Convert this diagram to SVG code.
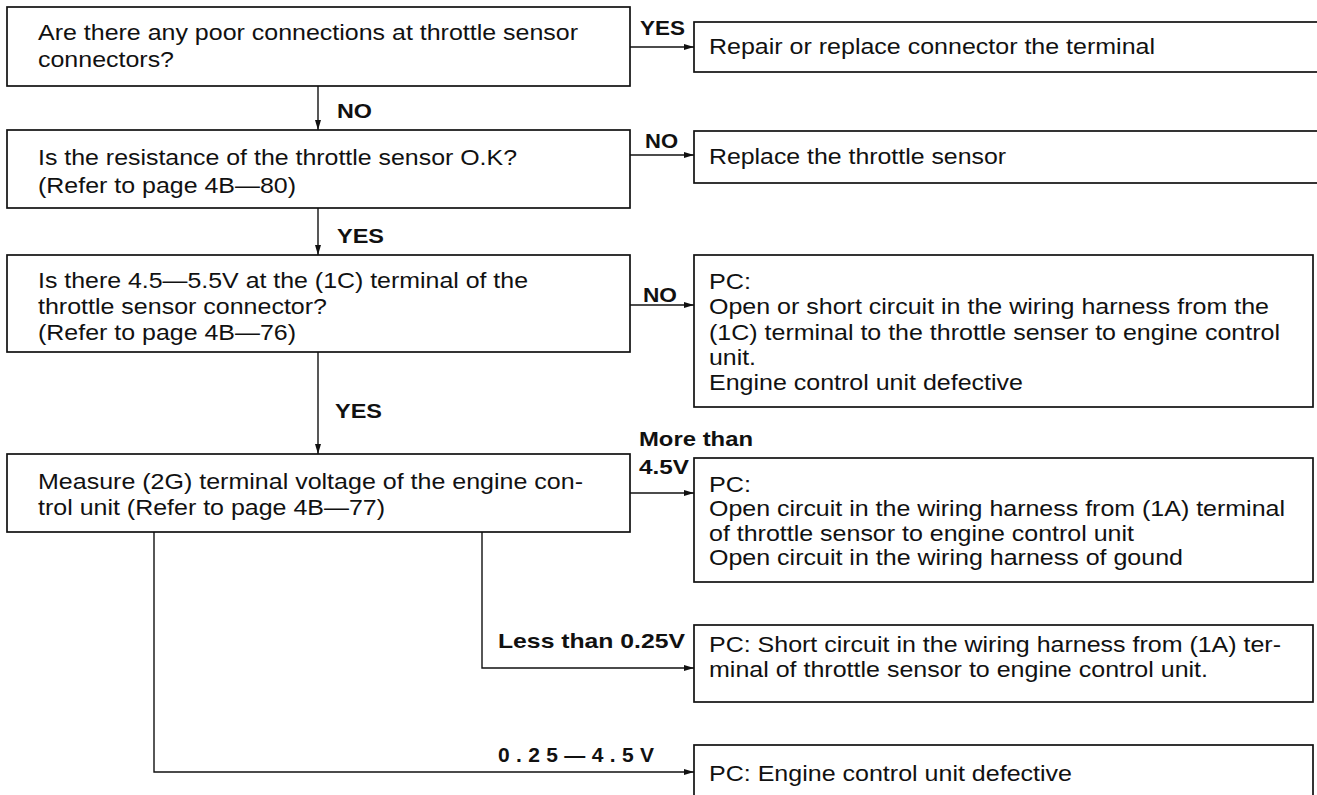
<svg xmlns="http://www.w3.org/2000/svg" width="1317" height="795" viewBox="0 0 1317 795">
<defs>
<marker id="ah" markerUnits="userSpaceOnUse" markerWidth="12" markerHeight="8" refX="10" refY="4" orient="auto">
<path d="M0,1 L10,4 L0,7 Z" fill="#111"/>
</marker>
<style>
.box{fill:#fff;stroke:#111;stroke-width:1.7}
.t{font-family:"Liberation Sans",Arial,sans-serif;font-size:22px;fill:#111}
.l{font-family:"Liberation Sans",Arial,sans-serif;font-size:21px;font-weight:bold;fill:#111}
.c{fill:none;stroke:#111;stroke-width:1.4}
</style>
</defs>
<rect width="1317" height="795" fill="#fff"/>

<g id="connectors">
<path class="c" d="M318,86 V130" marker-end="url(#ah)"/>
<path class="c" d="M318,208 V255" marker-end="url(#ah)"/>
<path class="c" d="M318,352 V454" marker-end="url(#ah)"/>
<path class="c" d="M630,47 H694" marker-end="url(#ah)"/>
<path class="c" d="M630,155 H694" marker-end="url(#ah)"/>
<path class="c" d="M630,305 H694" marker-end="url(#ah)"/>
<path class="c" d="M630,493 H694" marker-end="url(#ah)"/>
<path class="c" d="M482,532 V668 H694" marker-end="url(#ah)"/>
<path class="c" d="M154,532 V772 H694" marker-end="url(#ah)"/>
<text class="l" x="640" y="35" textLength="45" lengthAdjust="spacingAndGlyphs">YES</text>
<text class="l" x="337" y="118" textLength="35" lengthAdjust="spacingAndGlyphs">NO</text>
<text class="l" x="645" y="148" textLength="33" lengthAdjust="spacingAndGlyphs">NO</text>
<text class="l" x="337" y="243" textLength="47" lengthAdjust="spacingAndGlyphs">YES</text>
<text class="l" x="643" y="302" textLength="34" lengthAdjust="spacingAndGlyphs">NO</text>
<text class="l" x="335" y="418" textLength="47" lengthAdjust="spacingAndGlyphs">YES</text>
<text class="l" x="639" y="446" textLength="114" lengthAdjust="spacingAndGlyphs">More than</text>
<text class="l" x="639" y="474" textLength="50" lengthAdjust="spacingAndGlyphs">4.5V</text>
<text class="l" x="498" y="648" textLength="187" lengthAdjust="spacingAndGlyphs">Less than 0.25V</text>
<text class="l" x="498" y="762" textLength="156" lengthAdjust="spacing">0.25—4.5V</text>
</g>

<g id="q1">
<rect class="box" x="7" y="7" width="623" height="79"/>
<text class="t" x="38" y="40" textLength="540" lengthAdjust="spacingAndGlyphs">Are there any poor connections at throttle sensor</text>
<text class="t" x="38" y="67" textLength="136" lengthAdjust="spacingAndGlyphs">connectors?</text>
</g>

<g id="q2">
<rect class="box" x="7" y="130" width="623" height="78"/>
<text class="t" x="38" y="165" textLength="479" lengthAdjust="spacingAndGlyphs">Is the resistance of the throttle sensor O.K?</text>
<text class="t" x="38" y="193" textLength="258" lengthAdjust="spacingAndGlyphs">(Refer to page 4B—80)</text>
</g>

<g id="q3">
<rect class="box" x="7" y="255" width="623" height="97"/>
<text class="t" x="38" y="288" textLength="490" lengthAdjust="spacingAndGlyphs">Is there 4.5—5.5V at the (1C) terminal of the</text>
<text class="t" x="38" y="314" textLength="289" lengthAdjust="spacingAndGlyphs">throttle sensor connector?</text>
<text class="t" x="38" y="340" textLength="258" lengthAdjust="spacingAndGlyphs">(Refer to page 4B—76)</text>
</g>

<g id="q4">
<rect class="box" x="7" y="454" width="623" height="78"/>
<text class="t" x="38" y="489" textLength="545" lengthAdjust="spacingAndGlyphs">Measure (2G) terminal voltage of the engine con-</text>
<text class="t" x="38" y="515" textLength="347" lengthAdjust="spacingAndGlyphs">trol unit (Refer to page 4B—77)</text>
</g>

<g id="r1">
<rect class="box" x="694" y="22" width="640" height="50"/>
<text class="t" x="709" y="54" textLength="446" lengthAdjust="spacingAndGlyphs">Repair or replace connector the terminal</text>
</g>

<g id="r2">
<rect class="box" x="694" y="131" width="640" height="52"/>
<text class="t" x="709" y="164" textLength="297" lengthAdjust="spacingAndGlyphs">Replace the throttle sensor</text>
</g>

<g id="r3">
<rect class="box" x="694" y="255" width="619" height="152"/>
<text class="t" x="709" y="289" textLength="42" lengthAdjust="spacingAndGlyphs">PC:</text>
<text class="t" x="709" y="314" textLength="560" lengthAdjust="spacingAndGlyphs">Open or short circuit in the wiring harness from the</text>
<text class="t" x="709" y="340" textLength="571" lengthAdjust="spacingAndGlyphs">(1C) terminal to the throttle senser to engine control</text>
<text class="t" x="709" y="365" textLength="47" lengthAdjust="spacingAndGlyphs">unit.</text>
<text class="t" x="709" y="390" textLength="314" lengthAdjust="spacingAndGlyphs">Engine control unit defective</text>
</g>

<g id="r4">
<rect class="box" x="694" y="458" width="619" height="124"/>
<text class="t" x="709" y="492" textLength="42" lengthAdjust="spacingAndGlyphs">PC:</text>
<text class="t" x="709" y="516" textLength="576" lengthAdjust="spacingAndGlyphs">Open circuit in the wiring harness from (1A) terminal</text>
<text class="t" x="709" y="541" textLength="425" lengthAdjust="spacingAndGlyphs">of throttle sensor to engine control unit</text>
<text class="t" x="709" y="565" textLength="474" lengthAdjust="spacingAndGlyphs">Open circuit in the wiring harness of gound</text>
</g>

<g id="r5">
<rect class="box" x="694" y="625" width="619" height="77"/>
<text class="t" x="709" y="652" textLength="572" lengthAdjust="spacingAndGlyphs">PC: Short circuit in the wiring harness from (1A) ter-</text>
<text class="t" x="709" y="677" textLength="499" lengthAdjust="spacingAndGlyphs">minal of throttle sensor to engine control unit.</text>
</g>

<g id="r6">
<rect class="box" x="694" y="745" width="619" height="70"/>
<text class="t" x="709" y="781" textLength="363" lengthAdjust="spacingAndGlyphs">PC: Engine control unit defective</text>
</g>
</svg>
